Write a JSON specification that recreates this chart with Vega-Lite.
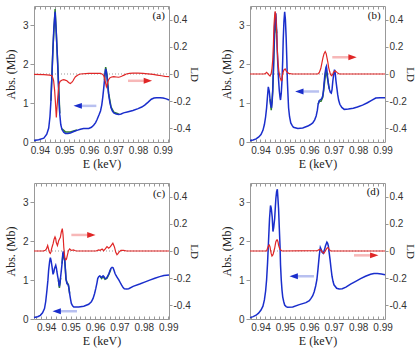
{
"$schema":"https://vega.github.io/schema/vega-lite/v6.json",
"background":"white",
"padding":{"left":4,"top":5,"right":0,"bottom":2},
"columns":2,
"spacing":{"row":41,"column":81},
"bounds":"flush",
"datasets":{
"a_blue":[{"E":0.9376,"abs":0.036},{"E":0.9395,"abs":0.06},{"E":0.9416,"abs":0.10},{"E":0.9428,"abs":0.2},{"E":0.9436,"abs":0.36},{"E":0.9441,"abs":0.65},{"E":0.9445,"abs":1.06},{"E":0.9449,"abs":1.7},{"E":0.9453,"abs":2.36},{"E":0.9457,"abs":2.95},{"E":0.9462,"abs":3.35},{"E":0.9467,"abs":2.8},{"E":0.9473,"abs":1.92},{"E":0.9477,"abs":1.2},{"E":0.9481,"abs":0.71},{"E":0.9485,"abs":0.45},{"E":0.949,"abs":0.32},{"E":0.9497,"abs":0.25},{"E":0.9504,"abs":0.22},{"E":0.9514,"abs":0.22},{"E":0.9524,"abs":0.23},{"E":0.9538,"abs":0.27},{"E":0.9551,"abs":0.30},{"E":0.9565,"abs":0.33},{"E":0.9578,"abs":0.35},{"E":0.959,"abs":0.35},{"E":0.9599,"abs":0.35},{"E":0.961,"abs":0.38},{"E":0.9619,"abs":0.43},{"E":0.9627,"abs":0.5},{"E":0.9633,"abs":0.58},{"E":0.9641,"abs":0.7},{"E":0.9647,"abs":0.80},{"E":0.9652,"abs":0.95},{"E":0.9656,"abs":1.14},{"E":0.966,"abs":1.38},{"E":0.9663,"abs":1.58},{"E":0.9666,"abs":1.80},{"E":0.9668,"abs":1.88},{"E":0.967,"abs":1.84},{"E":0.9673,"abs":1.71},{"E":0.9676,"abs":1.48},{"E":0.968,"abs":1.23},{"E":0.9685,"abs":1.02},{"E":0.969,"abs":0.88},{"E":0.9695,"abs":0.8},{"E":0.9701,"abs":0.75},{"E":0.9711,"abs":0.72},{"E":0.9721,"abs":0.71},{"E":0.9731,"abs":0.72},{"E":0.9741,"abs":0.75},{"E":0.976,"abs":0.78},{"E":0.9779,"abs":0.81},{"E":0.98,"abs":0.86},{"E":0.9815,"abs":0.9},{"E":0.9827,"abs":0.95},{"E":0.984,"abs":1.02},{"E":0.9854,"abs":1.10},{"E":0.9865,"abs":1.13},{"E":0.9875,"abs":1.14},{"E":0.989,"abs":1.14},{"E":0.9902,"abs":1.13},{"E":0.9915,"abs":1.11},{"E":0.9926,"abs":1.08}],
"a_green":[{"g":1,"E":0.9445,"abs":1.06},{"g":1,"E":0.9453,"abs":2.40},{"g":1,"E":0.9462,"abs":3.42},{"g":1,"E":0.9473,"abs":1.98},{"g":1,"E":0.9481,"abs":0.74},{"g":2,"E":0.949,"abs":0.34},{"g":2,"E":0.9504,"abs":0.26},{"g":2,"E":0.9524,"abs":0.26},{"g":2,"E":0.9551,"abs":0.31},{"g":3,"E":0.9663,"abs":1.60},{"g":3,"E":0.9668,"abs":1.93},{"g":3,"E":0.9673,"abs":1.75},{"g":3,"E":0.968,"abs":1.25},{"g":3,"E":0.969,"abs":0.90},{"g":3,"E":0.9701,"abs":0.77},{"g":3,"E":0.9721,"abs":0.72}],
"a_red":[{"E":0.9376,"ld":-0.003},{"E":0.9416,"ld":-0.005},{"E":0.944,"ld":-0.008},{"E":0.9449,"ld":-0.013},{"E":0.9453,"ld":-0.03},{"E":0.9456,"ld":-0.05},{"E":0.946,"ld":-0.12},{"E":0.9463,"ld":-0.2},{"E":0.9467,"ld":-0.32},{"E":0.947,"ld":-0.24},{"E":0.9473,"ld":-0.17},{"E":0.9476,"ld":-0.11},{"E":0.9478,"ld":-0.074},{"E":0.9482,"ld":-0.055},{"E":0.9486,"ld":-0.05},{"E":0.9491,"ld":-0.044},{"E":0.9497,"ld":-0.042},{"E":0.9503,"ld":-0.045},{"E":0.951,"ld":-0.05},{"E":0.9517,"ld":-0.062},{"E":0.9524,"ld":-0.07},{"E":0.953,"ld":-0.062},{"E":0.9535,"ld":-0.05},{"E":0.954,"ld":-0.033},{"E":0.9545,"ld":-0.02},{"E":0.9555,"ld":-0.007},{"E":0.9565,"ld":0},{"E":0.9599,"ld":0.005},{"E":0.9647,"ld":0.005},{"E":0.9656,"ld":-0.003},{"E":0.966,"ld":-0.013},{"E":0.9664,"ld":-0.035},{"E":0.9667,"ld":-0.06},{"E":0.9671,"ld":-0.094},{"E":0.9674,"ld":-0.078},{"E":0.9676,"ld":-0.06},{"E":0.968,"ld":-0.042},{"E":0.9684,"ld":-0.03},{"E":0.9692,"ld":-0.022},{"E":0.9701,"ld":-0.02},{"E":0.9711,"ld":-0.022},{"E":0.9721,"ld":-0.024},{"E":0.9728,"ld":-0.02},{"E":0.9735,"ld":-0.015},{"E":0.9743,"ld":-0.008},{"E":0.9752,"ld":0},{"E":0.9765,"ld":0.005},{"E":0.9779,"ld":0.007},{"E":0.98,"ld":0.006},{"E":0.982,"ld":0.005},{"E":0.984,"ld":0.001},{"E":0.9861,"ld":-0.003},{"E":0.9878,"ld":-0.008},{"E":0.9895,"ld":-0.013},{"E":0.991,"ld":-0.017},{"E":0.9926,"ld":-0.02}],
"a_zero":[{"E":0.9376,"Et":0.9926,"ld":0}],
"a_barrow":[{"E":0.9554,"Et":0.963,"abs":0.93}],
"a_rarrow":[{"E":0.984,"Et":0.9759,"ld":-0.05}],
"a_lab":[{"E":0.9884,"abs":3.24,"t":"(a)"}],
"b_blue":[{"E":0.9357,"abs":0.04},{"E":0.937,"abs":0.05},{"E":0.9382,"abs":0.08},{"E":0.9393,"abs":0.13},{"E":0.9402,"abs":0.19},{"E":0.941,"abs":0.3},{"E":0.9416,"abs":0.45},{"E":0.9421,"abs":0.65},{"E":0.9425,"abs":0.88},{"E":0.9429,"abs":1.2},{"E":0.9432,"abs":1.42},{"E":0.9436,"abs":1.3},{"E":0.9439,"abs":1.1},{"E":0.9442,"abs":0.95},{"E":0.9445,"abs":0.88},{"E":0.9448,"abs":1.05},{"E":0.945,"abs":1.32},{"E":0.9453,"abs":1.85},{"E":0.9455,"abs":2.36},{"E":0.9458,"abs":2.95},{"E":0.9461,"abs":3.31},{"E":0.9463,"abs":3.3},{"E":0.9466,"abs":2.88},{"E":0.9468,"abs":2.45},{"E":0.9471,"abs":2.0},{"E":0.9474,"abs":1.6},{"E":0.9477,"abs":1.32},{"E":0.948,"abs":1.15},{"E":0.9482,"abs":1.08},{"E":0.9485,"abs":1.25},{"E":0.9488,"abs":1.58},{"E":0.9491,"abs":2.1},{"E":0.9493,"abs":2.62},{"E":0.9496,"abs":3.1},{"E":0.9499,"abs":3.35},{"E":0.9502,"abs":3.15},{"E":0.9505,"abs":2.7},{"E":0.9508,"abs":2.1},{"E":0.951,"abs":1.58},{"E":0.9513,"abs":1.15},{"E":0.9515,"abs":0.88},{"E":0.9519,"abs":0.65},{"E":0.9524,"abs":0.49},{"E":0.953,"abs":0.42},{"E":0.9535,"abs":0.38},{"E":0.9553,"abs":0.35},{"E":0.9573,"abs":0.36},{"E":0.9594,"abs":0.41},{"E":0.9605,"abs":0.45},{"E":0.9614,"abs":0.49},{"E":0.9622,"abs":0.57},{"E":0.9628,"abs":0.67},{"E":0.9633,"abs":0.82},{"E":0.9636,"abs":0.97},{"E":0.9641,"abs":1.07},{"E":0.9648,"abs":1.1},{"E":0.9652,"abs":1.13},{"E":0.9655,"abs":1.19},{"E":0.9658,"abs":1.32},{"E":0.966,"abs":1.49},{"E":0.9664,"abs":1.75},{"E":0.9668,"abs":1.92},{"E":0.967,"abs":1.95},{"E":0.9672,"abs":1.85},{"E":0.9675,"abs":1.66},{"E":0.9679,"abs":1.45},{"E":0.9682,"abs":1.36},{"E":0.9686,"abs":1.28},{"E":0.969,"abs":1.26},{"E":0.9693,"abs":1.35},{"E":0.9696,"abs":1.55},{"E":0.97,"abs":1.75},{"E":0.9703,"abs":1.86},{"E":0.9706,"abs":1.78},{"E":0.9709,"abs":1.58},{"E":0.9713,"abs":1.38},{"E":0.9716,"abs":1.23},{"E":0.972,"abs":1.08},{"E":0.9725,"abs":0.97},{"E":0.9733,"abs":0.89},{"E":0.9743,"abs":0.84},{"E":0.976,"abs":0.85},{"E":0.978,"abs":0.87},{"E":0.9797,"abs":0.9},{"E":0.9818,"abs":0.95},{"E":0.9838,"abs":1.01},{"E":0.9855,"abs":1.07},{"E":0.9872,"abs":1.13},{"E":0.989,"abs":1.14},{"E":0.991,"abs":1.14}],
"b_green":[{"g":1,"E":0.9439,"abs":1.1},{"g":1,"E":0.9444,"abs":0.82},{"g":1,"E":0.945,"abs":1.3},{"g":1,"E":0.9455,"abs":2.3},{"g":1,"E":0.9461,"abs":3.25},{"g":1,"E":0.9466,"abs":2.8},{"g":2,"E":0.9636,"abs":0.97},{"g":2,"E":0.9641,"abs":1.05},{"g":2,"E":0.9648,"abs":1.05},{"g":2,"E":0.9655,"abs":1.15},{"g":2,"E":0.966,"abs":1.4},{"g":2,"E":0.9668,"abs":1.85},{"g":2,"E":0.9675,"abs":1.62},{"g":2,"E":0.9682,"abs":1.36}],
"b_red":[{"E":0.9357,"ld":0},{"E":0.9416,"ld":0},{"E":0.9421,"ld":0.006},{"E":0.9425,"ld":0.012},{"E":0.9429,"ld":0.005},{"E":0.9433,"ld":-0.005},{"E":0.9439,"ld":-0.015},{"E":0.9444,"ld":0.005},{"E":0.9447,"ld":0.04},{"E":0.945,"ld":0.1},{"E":0.9453,"ld":0.22},{"E":0.9455,"ld":0.35},{"E":0.9458,"ld":0.43},{"E":0.946,"ld":0.46},{"E":0.9462,"ld":0.44},{"E":0.9464,"ld":0.39},{"E":0.9467,"ld":0.28},{"E":0.9469,"ld":0.17},{"E":0.9472,"ld":0.08},{"E":0.9475,"ld":0.024},{"E":0.948,"ld":-0.025},{"E":0.9485,"ld":-0.05},{"E":0.9488,"ld":-0.045},{"E":0.949,"ld":-0.01},{"E":0.9493,"ld":0.015},{"E":0.9496,"ld":0.03},{"E":0.9501,"ld":0.037},{"E":0.9507,"ld":0.017},{"E":0.9515,"ld":0.005},{"E":0.953,"ld":0},{"E":0.9635,"ld":0},{"E":0.9641,"ld":0.012},{"E":0.9647,"ld":0.04},{"E":0.9652,"ld":0.086},{"E":0.9656,"ld":0.12},{"E":0.966,"ld":0.148},{"E":0.9665,"ld":0.165},{"E":0.9669,"ld":0.15},{"E":0.9672,"ld":0.123},{"E":0.9676,"ld":0.085},{"E":0.9679,"ld":0.049},{"E":0.9683,"ld":0.02},{"E":0.9687,"ld":-0.005},{"E":0.9692,"ld":-0.013},{"E":0.9696,"ld":0.0},{"E":0.9699,"ld":0.012},{"E":0.9706,"ld":0.024},{"E":0.9713,"ld":0.012},{"E":0.9722,"ld":0},{"E":0.98,"ld":0},{"E":0.991,"ld":0}],
"b_zero":[{"E":0.9357,"Et":0.991,"ld":0}],
"b_barrow":[{"E":0.9559,"Et":0.964,"abs":1.30}],
"b_rarrow":[{"E":0.9777,"Et":0.9694,"ld":0.123}],
"b_lab":[{"E":0.9866,"abs":3.24,"t":"(b)"}],
"c_blue":[{"E":0.935,"abs":0.036},{"E":0.9365,"abs":0.06},{"E":0.9376,"abs":0.095},{"E":0.9385,"abs":0.16},{"E":0.9393,"abs":0.27},{"E":0.9398,"abs":0.45},{"E":0.9403,"abs":0.74},{"E":0.9407,"abs":1.0},{"E":0.941,"abs":1.26},{"E":0.9414,"abs":1.48},{"E":0.9417,"abs":1.58},{"E":0.942,"abs":1.5},{"E":0.9424,"abs":1.34},{"E":0.9428,"abs":1.15},{"E":0.9431,"abs":1.2},{"E":0.9434,"abs":1.30},{"E":0.9439,"abs":1.38},{"E":0.9442,"abs":1.3},{"E":0.9444,"abs":1.21},{"E":0.9447,"abs":1.1},{"E":0.945,"abs":1.0},{"E":0.9454,"abs":0.84},{"E":0.9457,"abs":0.95},{"E":0.9459,"abs":1.08},{"E":0.9462,"abs":1.25},{"E":0.9465,"abs":1.43},{"E":0.9468,"abs":1.68},{"E":0.947,"abs":1.74},{"E":0.9473,"abs":1.65},{"E":0.9476,"abs":1.51},{"E":0.9479,"abs":1.25},{"E":0.9481,"abs":1.04},{"E":0.9485,"abs":0.91},{"E":0.9488,"abs":0.9},{"E":0.9491,"abs":0.86},{"E":0.9494,"abs":0.75},{"E":0.9496,"abs":0.65},{"E":0.95,"abs":0.5},{"E":0.9503,"abs":0.40},{"E":0.9508,"abs":0.34},{"E":0.9513,"abs":0.31},{"E":0.9533,"abs":0.31},{"E":0.9554,"abs":0.33},{"E":0.9574,"abs":0.38},{"E":0.9585,"abs":0.44},{"E":0.9592,"abs":0.53},{"E":0.9598,"abs":0.65},{"E":0.9603,"abs":0.78},{"E":0.9608,"abs":0.93},{"E":0.9611,"abs":1.04},{"E":0.9615,"abs":1.09},{"E":0.9619,"abs":1.11},{"E":0.9623,"abs":1.09},{"E":0.9627,"abs":1.07},{"E":0.9633,"abs":1.11},{"E":0.9637,"abs":1.09},{"E":0.9641,"abs":1.04},{"E":0.9645,"abs":1.04},{"E":0.9649,"abs":1.07},{"E":0.9653,"abs":1.12},{"E":0.9657,"abs":1.17},{"E":0.9661,"abs":1.24},{"E":0.9665,"abs":1.30},{"E":0.967,"abs":1.33},{"E":0.9674,"abs":1.32},{"E":0.9678,"abs":1.25},{"E":0.9682,"abs":1.17},{"E":0.9686,"abs":1.12},{"E":0.969,"abs":1.08},{"E":0.9694,"abs":1.04},{"E":0.9698,"abs":1.0},{"E":0.9703,"abs":0.94},{"E":0.9709,"abs":0.87},{"E":0.9715,"abs":0.81},{"E":0.972,"abs":0.78},{"E":0.973,"abs":0.77},{"E":0.9738,"abs":0.78},{"E":0.9756,"abs":0.84},{"E":0.9783,"abs":0.90},{"E":0.9803,"abs":0.95},{"E":0.9824,"abs":1.0},{"E":0.9845,"abs":1.05},{"E":0.9865,"abs":1.09},{"E":0.9882,"abs":1.12},{"E":0.9903,"abs":1.13}],
"c_green":[{"g":1,"E":0.945,"abs":1.0},{"g":1,"E":0.9454,"abs":0.80},{"g":1,"E":0.9459,"abs":1.06},{"g":2,"E":0.9465,"abs":1.43},{"g":2,"E":0.9469,"abs":1.70},{"g":2,"E":0.9476,"abs":1.5},{"g":2,"E":0.9481,"abs":1.02},{"g":2,"E":0.9485,"abs":0.94},{"g":2,"E":0.9491,"abs":0.88},{"g":2,"E":0.9496,"abs":0.66},{"g":3,"E":0.9619,"abs":1.11},{"g":3,"E":0.9627,"abs":1.04},{"g":3,"E":0.9633,"abs":1.09},{"g":3,"E":0.9641,"abs":1.02},{"g":3,"E":0.9649,"abs":1.05},{"g":3,"E":0.9657,"abs":1.15},{"g":3,"E":0.9665,"abs":1.28}],
"c_red":[{"E":0.935,"ld":0},{"E":0.9389,"ld":0},{"E":0.9396,"ld":0.005},{"E":0.9401,"ld":0.015},{"E":0.9406,"ld":0.04},{"E":0.9409,"ld":0.02},{"E":0.9411,"ld":0.003},{"E":0.9414,"ld":-0.012},{"E":0.9417,"ld":-0.018},{"E":0.942,"ld":-0.005},{"E":0.9422,"ld":0.015},{"E":0.9425,"ld":0.035},{"E":0.9428,"ld":0.052},{"E":0.9432,"ld":0.085},{"E":0.9436,"ld":0.104},{"E":0.9439,"ld":0.09},{"E":0.9441,"ld":0.064},{"E":0.9446,"ld":0.04},{"E":0.9449,"ld":0.06},{"E":0.9451,"ld":0.076},{"E":0.9455,"ld":0.09},{"E":0.9458,"ld":0.10},{"E":0.9462,"ld":0.14},{"E":0.9466,"ld":0.165},{"E":0.9469,"ld":0.12},{"E":0.9472,"ld":0.027},{"E":0.9476,"ld":-0.047},{"E":0.948,"ld":-0.065},{"E":0.9483,"ld":-0.06},{"E":0.9486,"ld":-0.035},{"E":0.9491,"ld":0.002},{"E":0.9496,"ld":0.015},{"E":0.9503,"ld":0.004},{"E":0.9511,"ld":0.008},{"E":0.952,"ld":0.002},{"E":0.9527,"ld":0},{"E":0.9604,"ld":0},{"E":0.9615,"ld":0.008},{"E":0.9621,"ld":0.005},{"E":0.9629,"ld":0.015},{"E":0.9635,"ld":0.002},{"E":0.9642,"ld":0.015},{"E":0.9649,"ld":0.032},{"E":0.9656,"ld":0.02},{"E":0.9663,"ld":0.032},{"E":0.9668,"ld":0.045},{"E":0.9673,"ld":0.057},{"E":0.9677,"ld":0.04},{"E":0.968,"ld":0.027},{"E":0.9685,"ld":-0.01},{"E":0.969,"ld":-0.027},{"E":0.9694,"ld":-0.02},{"E":0.9698,"ld":-0.008},{"E":0.9706,"ld":0.004},{"E":0.9717,"ld":0.004},{"E":0.973,"ld":0},{"E":0.9903,"ld":0}],
"c_zero":[{"E":0.935,"Et":0.9903,"ld":0}],
"c_barrow":[{"E":0.9443,"Et":0.9526,"abs":0.2}],
"c_rarrow":[{"E":0.9585,"Et":0.9503,"ld":0.118}],
"c_lab":[{"E":0.9862,"abs":3.22,"t":"(c)"}],
"d_blue":[{"E":0.9357,"abs":0.036},{"E":0.937,"abs":0.06},{"E":0.9382,"abs":0.097},{"E":0.9392,"abs":0.15},{"E":0.9402,"abs":0.23},{"E":0.941,"abs":0.33},{"E":0.9416,"abs":0.49},{"E":0.9421,"abs":0.72},{"E":0.9425,"abs":1.01},{"E":0.9429,"abs":1.45},{"E":0.9432,"abs":1.88},{"E":0.9435,"abs":2.3},{"E":0.9437,"abs":2.58},{"E":0.9441,"abs":2.92},{"E":0.9444,"abs":2.85},{"E":0.9448,"abs":2.62},{"E":0.9451,"abs":2.25},{"E":0.9454,"abs":2.35},{"E":0.9458,"abs":2.58},{"E":0.9461,"abs":2.9},{"E":0.9463,"abs":3.1},{"E":0.9466,"abs":3.28},{"E":0.9469,"abs":3.34},{"E":0.9471,"abs":3.15},{"E":0.9474,"abs":2.84},{"E":0.9477,"abs":2.35},{"E":0.948,"abs":1.88},{"E":0.9482,"abs":1.4},{"E":0.9485,"abs":1.01},{"E":0.9488,"abs":0.75},{"E":0.9491,"abs":0.57},{"E":0.9495,"abs":0.45},{"E":0.9499,"abs":0.36},{"E":0.9505,"abs":0.32},{"E":0.9511,"abs":0.30},{"E":0.9532,"abs":0.31},{"E":0.9559,"abs":0.37},{"E":0.9586,"abs":0.42},{"E":0.96,"abs":0.47},{"E":0.9607,"abs":0.53},{"E":0.9614,"abs":0.6},{"E":0.962,"abs":0.70},{"E":0.9626,"abs":0.85},{"E":0.9631,"abs":1.01},{"E":0.9635,"abs":1.25},{"E":0.9638,"abs":1.45},{"E":0.9641,"abs":1.65},{"E":0.9645,"abs":1.84},{"E":0.9649,"abs":1.78},{"E":0.9652,"abs":1.72},{"E":0.9657,"abs":1.69},{"E":0.9662,"abs":1.78},{"E":0.9666,"abs":1.88},{"E":0.9672,"abs":1.98},{"E":0.9675,"abs":1.95},{"E":0.9678,"abs":1.88},{"E":0.9681,"abs":1.72},{"E":0.9685,"abs":1.53},{"E":0.9689,"abs":1.3},{"E":0.9693,"abs":1.10},{"E":0.9697,"abs":0.97},{"E":0.9701,"abs":0.88},{"E":0.9712,"abs":0.79},{"E":0.9722,"abs":0.77},{"E":0.9735,"abs":0.78},{"E":0.975,"abs":0.82},{"E":0.9769,"abs":0.90},{"E":0.979,"abs":0.97},{"E":0.981,"abs":1.04},{"E":0.983,"abs":1.10},{"E":0.9851,"abs":1.15},{"E":0.9865,"abs":1.17},{"E":0.9879,"abs":1.17},{"E":0.9895,"abs":1.16},{"E":0.991,"abs":1.14}],
"d_red":[{"E":0.9357,"ld":0},{"E":0.9425,"ld":0},{"E":0.9429,"ld":0.02},{"E":0.9433,"ld":0.04},{"E":0.9436,"ld":0.044},{"E":0.9439,"ld":0.03},{"E":0.9441,"ld":0.007},{"E":0.9444,"ld":-0.02},{"E":0.9447,"ld":-0.037},{"E":0.945,"ld":-0.03},{"E":0.9452,"ld":-0.022},{"E":0.9455,"ld":0.0},{"E":0.9458,"ld":0.02},{"E":0.9461,"ld":0.05},{"E":0.9463,"ld":0.069},{"E":0.9466,"ld":0.08},{"E":0.9469,"ld":0.081},{"E":0.9472,"ld":0.065},{"E":0.9474,"ld":0.044},{"E":0.9477,"ld":0.025},{"E":0.948,"ld":0.012},{"E":0.9488,"ld":0},{"E":0.9634,"ld":0.003},{"E":0.9641,"ld":0.012},{"E":0.9647,"ld":0.007},{"E":0.9651,"ld":-0.003},{"E":0.9655,"ld":-0.012},{"E":0.966,"ld":-0.017},{"E":0.9663,"ld":-0.008},{"E":0.9666,"ld":0.003},{"E":0.9672,"ld":0.02},{"E":0.9676,"ld":0.025},{"E":0.9681,"ld":0.012},{"E":0.9685,"ld":0.004},{"E":0.9689,"ld":0},{"E":0.991,"ld":0}],
"d_zero":[{"E":0.9357,"Et":0.991,"ld":0}],
"d_barrow":[{"E":0.9536,"Et":0.9619,"abs":1.1}],
"d_rarrow":[{"E":0.9866,"Et":0.9783,"ld":-0.032}],
"d_lab":[{"E":0.9861,"abs":3.26,"t":"(d)"}]
},
"concat":[
{"width":135,"height":136,
 "layer":[
  {"data":{"name":"a_zero"},"mark":{"type":"rule","stroke":"#999","strokeWidth":1,"strokeDash":[1,2]},
   "encoding":{"x":{"field":"E","type":"quantitative","scale":{"domain":[0.9376,0.9926],"nice":false,"zero":false},"axis":{"orient":"bottom","labels":false,"title":null,"domain":false,"tickSize":-3,"values":[0.938,0.94,0.942,0.944,0.946,0.948,0.95,0.952,0.954,0.956,0.958,0.96,0.962,0.964,0.966,0.968,0.97,0.972,0.974,0.976,0.978,0.98,0.982,0.984,0.986,0.988,0.99,0.992]}},
    "x2":{"field":"Et"},
    "y":{"field":"ld","type":"quantitative","scale":{"domain":[-0.5,0.5],"nice":false,"zero":false},"axis":null}}},
  {"encoding":{"x":{"field":"E","type":"quantitative","scale":{"domain":[0.9376,0.9926],"nice":false,"zero":false},"axis":{"orient":"bottom","values":[0.94,0.95,0.96,0.97,0.98,0.99],"format":".2f","ticks":false,"labelPadding":3,"labelFlush":false,"labelOverlap":false,"title":"E (keV)","titlePadding":3}},
    "y":{"field":"abs","type":"quantitative","scale":{"domain":[0,3.5],"nice":false,"zero":false},"axis":{"orient":"left","values":[0,1,2,3],"format":"d","tickSize":4,"labelPadding":2,"title":"Abs. (Mb)","titlePadding":5}}},
   "layer":[
    {"data":{"name":"a_green"},"mark":{"type":"line","stroke":"#2e7d32","strokeWidth":1.5},"encoding":{"detail":{"field":"g"}}},
    {"data":{"name":"a_blue"},"mark":{"type":"line","stroke":"#1a2ecc","strokeWidth":1.5}},
    {"data":{"name":"a_barrow"},"mark":{"type":"rule","stroke":"#b8c0f0","strokeWidth":2.5},"encoding":{"x2":{"field":"Et"}}},
    {"data":{"name":"a_barrow"},"mark":{"type":"point","shape":"M -1 0 L 1 -0.7 L 1 0.7 Z","filled":true,"size":70,"color":"#1a2ecc","opacity":1}},
    {"data":{"name":"a_lab"},"mark":{"type":"text","font":"Liberation Serif","fontSize":11,"color":"#111"},"encoding":{"text":{"field":"t"}}}
   ]},
  {"encoding":{"x":{"field":"E","type":"quantitative","scale":{"domain":[0.9376,0.9926],"nice":false,"zero":false},"axis":{"orient":"top","labels":false,"title":null,"tickSize":-3,"values":[0.938,0.94,0.942,0.944,0.946,0.948,0.95,0.952,0.954,0.956,0.958,0.96,0.962,0.964,0.966,0.968,0.97,0.972,0.974,0.976,0.978,0.98,0.982,0.984,0.986,0.988,0.99,0.992]}},
    "y":{"field":"ld","type":"quantitative","scale":{"domain":[-0.5,0.5],"nice":false,"zero":false},"axis":{"orient":"right","values":[-0.4,-0.2,0,0.2,0.4],"tickSize":3,"labelPadding":1,"title":"LD","titleFontSize":11,"titlePadding":-2,"labelExpr":"datum.value == 0 ? '0' : (datum.value < 0 ? '-' : '') + format(abs(datum.value), '.1f')"}}},
   "layer":[
    {"data":{"name":"a_red"},"mark":{"type":"line","stroke":"#e02626","strokeWidth":1.2}},
    {"data":{"name":"a_rarrow"},"mark":{"type":"rule","stroke":"#f7b8b8","strokeWidth":2.5},"encoding":{"x2":{"field":"Et"}}},
    {"data":{"name":"a_rarrow"},"mark":{"type":"point","shape":"M 1 0 L -1 -0.7 L -1 0.7 Z","filled":true,"size":70,"color":"#e02626","opacity":1}}
   ]}
 ],
 "resolve":{"scale":{"y":"independent"},"axis":{"x":"independent","y":"independent"}}},
{"width":135,"height":136,
 "layer":[
  {"data":{"name":"b_zero"},"mark":{"type":"rule","stroke":"#999","strokeWidth":1,"strokeDash":[1,2]},
   "encoding":{"x":{"field":"E","type":"quantitative","scale":{"domain":[0.9357,0.991],"nice":false,"zero":false},"axis":{"orient":"bottom","labels":false,"title":null,"domain":false,"tickSize":-3,"values":[0.936,0.938,0.94,0.942,0.944,0.946,0.948,0.95,0.952,0.954,0.956,0.958,0.96,0.962,0.964,0.966,0.968,0.97,0.972,0.974,0.976,0.978,0.98,0.982,0.984,0.986,0.988,0.99]}},
    "x2":{"field":"Et"},
    "y":{"field":"ld","type":"quantitative","scale":{"domain":[-0.5,0.5],"nice":false,"zero":false},"axis":null}}},
  {"encoding":{"x":{"field":"E","type":"quantitative","scale":{"domain":[0.9357,0.991],"nice":false,"zero":false},"axis":{"orient":"bottom","values":[0.94,0.95,0.96,0.97,0.98,0.99],"format":".2f","ticks":false,"labelPadding":3,"labelFlush":false,"labelOverlap":false,"title":"E (keV)","titlePadding":3}},
    "y":{"field":"abs","type":"quantitative","scale":{"domain":[0,3.5],"nice":false,"zero":false},"axis":{"orient":"left","values":[0,1,2,3],"format":"d","tickSize":4,"labelPadding":2,"title":"Abs. (Mb)","titlePadding":5}}},
   "layer":[
    {"data":{"name":"b_green"},"mark":{"type":"line","stroke":"#2e7d32","strokeWidth":1.5},"encoding":{"detail":{"field":"g"}}},
    {"data":{"name":"b_blue"},"mark":{"type":"line","stroke":"#1a2ecc","strokeWidth":1.5}},
    {"data":{"name":"b_barrow"},"mark":{"type":"rule","stroke":"#b8c0f0","strokeWidth":2.5},"encoding":{"x2":{"field":"Et"}}},
    {"data":{"name":"b_barrow"},"mark":{"type":"point","shape":"M -1 0 L 1 -0.7 L 1 0.7 Z","filled":true,"size":70,"color":"#1a2ecc","opacity":1}},
    {"data":{"name":"b_lab"},"mark":{"type":"text","font":"Liberation Serif","fontSize":11,"color":"#111"},"encoding":{"text":{"field":"t"}}}
   ]},
  {"encoding":{"x":{"field":"E","type":"quantitative","scale":{"domain":[0.9357,0.991],"nice":false,"zero":false},"axis":{"orient":"top","labels":false,"title":null,"tickSize":-3,"values":[0.936,0.938,0.94,0.942,0.944,0.946,0.948,0.95,0.952,0.954,0.956,0.958,0.96,0.962,0.964,0.966,0.968,0.97,0.972,0.974,0.976,0.978,0.98,0.982,0.984,0.986,0.988,0.99]}},
    "y":{"field":"ld","type":"quantitative","scale":{"domain":[-0.5,0.5],"nice":false,"zero":false},"axis":{"orient":"right","values":[-0.4,-0.2,0,0.2,0.4],"tickSize":3,"labelPadding":1,"title":"LD","titleFontSize":11,"titlePadding":-2,"labelExpr":"datum.value == 0 ? '0' : (datum.value < 0 ? '-' : '') + format(abs(datum.value), '.1f')"}}},
   "layer":[
    {"data":{"name":"b_red"},"mark":{"type":"line","stroke":"#e02626","strokeWidth":1.2}},
    {"data":{"name":"b_rarrow"},"mark":{"type":"rule","stroke":"#f7b8b8","strokeWidth":2.5},"encoding":{"x2":{"field":"Et"}}},
    {"data":{"name":"b_rarrow"},"mark":{"type":"point","shape":"M 1 0 L -1 -0.7 L -1 0.7 Z","filled":true,"size":70,"color":"#e02626","opacity":1}}
   ]}
 ],
 "resolve":{"scale":{"y":"independent"},"axis":{"x":"independent","y":"independent"}}},
{"width":135,"height":136,
 "layer":[
  {"data":{"name":"c_zero"},"mark":{"type":"rule","stroke":"#999","strokeWidth":1,"strokeDash":[1,2]},
   "encoding":{"x":{"field":"E","type":"quantitative","scale":{"domain":[0.935,0.9903],"nice":false,"zero":false},"axis":{"orient":"bottom","labels":false,"title":null,"domain":false,"tickSize":-3,"values":[0.936,0.938,0.94,0.942,0.944,0.946,0.948,0.95,0.952,0.954,0.956,0.958,0.96,0.962,0.964,0.966,0.968,0.97,0.972,0.974,0.976,0.978,0.98,0.982,0.984,0.986,0.988,0.99]}},
    "x2":{"field":"Et"},
    "y":{"field":"ld","type":"quantitative","scale":{"domain":[-0.5,0.5],"nice":false,"zero":false},"axis":null}}},
  {"encoding":{"x":{"field":"E","type":"quantitative","scale":{"domain":[0.935,0.9903],"nice":false,"zero":false},"axis":{"orient":"bottom","values":[0.94,0.95,0.96,0.97,0.98,0.99],"format":".2f","ticks":false,"labelPadding":3,"labelFlush":false,"labelOverlap":false,"title":"E (keV)","titlePadding":3}},
    "y":{"field":"abs","type":"quantitative","scale":{"domain":[0,3.5],"nice":false,"zero":false},"axis":{"orient":"left","values":[0,1,2,3],"format":"d","tickSize":4,"labelPadding":2,"title":"Abs. (Mb)","titlePadding":5}}},
   "layer":[
    {"data":{"name":"c_green"},"mark":{"type":"line","stroke":"#2e7d32","strokeWidth":1.5},"encoding":{"detail":{"field":"g"}}},
    {"data":{"name":"c_blue"},"mark":{"type":"line","stroke":"#1a2ecc","strokeWidth":1.5}},
    {"data":{"name":"c_barrow"},"mark":{"type":"rule","stroke":"#b8c0f0","strokeWidth":2.5},"encoding":{"x2":{"field":"Et"}}},
    {"data":{"name":"c_barrow"},"mark":{"type":"point","shape":"M -1 0 L 1 -0.7 L 1 0.7 Z","filled":true,"size":70,"color":"#1a2ecc","opacity":1}},
    {"data":{"name":"c_lab"},"mark":{"type":"text","font":"Liberation Serif","fontSize":11,"color":"#111"},"encoding":{"text":{"field":"t"}}}
   ]},
  {"encoding":{"x":{"field":"E","type":"quantitative","scale":{"domain":[0.935,0.9903],"nice":false,"zero":false},"axis":{"orient":"top","labels":false,"title":null,"tickSize":-3,"values":[0.936,0.938,0.94,0.942,0.944,0.946,0.948,0.95,0.952,0.954,0.956,0.958,0.96,0.962,0.964,0.966,0.968,0.97,0.972,0.974,0.976,0.978,0.98,0.982,0.984,0.986,0.988,0.99]}},
    "y":{"field":"ld","type":"quantitative","scale":{"domain":[-0.5,0.5],"nice":false,"zero":false},"axis":{"orient":"right","values":[-0.4,-0.2,0,0.2,0.4],"tickSize":3,"labelPadding":1,"title":"LD","titleFontSize":11,"titlePadding":-2,"labelExpr":"datum.value == 0 ? '0' : (datum.value < 0 ? '-' : '') + format(abs(datum.value), '.1f')"}}},
   "layer":[
    {"data":{"name":"c_red"},"mark":{"type":"line","stroke":"#e02626","strokeWidth":1.2}},
    {"data":{"name":"c_rarrow"},"mark":{"type":"rule","stroke":"#f7b8b8","strokeWidth":2.5},"encoding":{"x2":{"field":"Et"}}},
    {"data":{"name":"c_rarrow"},"mark":{"type":"point","shape":"M 1 0 L -1 -0.7 L -1 0.7 Z","filled":true,"size":70,"color":"#e02626","opacity":1}}
   ]}
 ],
 "resolve":{"scale":{"y":"independent"},"axis":{"x":"independent","y":"independent"}}},
{"width":135,"height":136,
 "layer":[
  {"data":{"name":"d_zero"},"mark":{"type":"rule","stroke":"#999","strokeWidth":1,"strokeDash":[1,2]},
   "encoding":{"x":{"field":"E","type":"quantitative","scale":{"domain":[0.9357,0.991],"nice":false,"zero":false},"axis":{"orient":"bottom","labels":false,"title":null,"domain":false,"tickSize":-3,"values":[0.936,0.938,0.94,0.942,0.944,0.946,0.948,0.95,0.952,0.954,0.956,0.958,0.96,0.962,0.964,0.966,0.968,0.97,0.972,0.974,0.976,0.978,0.98,0.982,0.984,0.986,0.988,0.99]}},
    "x2":{"field":"Et"},
    "y":{"field":"ld","type":"quantitative","scale":{"domain":[-0.5,0.5],"nice":false,"zero":false},"axis":null}}},
  {"encoding":{"x":{"field":"E","type":"quantitative","scale":{"domain":[0.9357,0.991],"nice":false,"zero":false},"axis":{"orient":"bottom","values":[0.94,0.95,0.96,0.97,0.98,0.99],"format":".2f","ticks":false,"labelPadding":3,"labelFlush":false,"labelOverlap":false,"title":"E (keV)","titlePadding":3}},
    "y":{"field":"abs","type":"quantitative","scale":{"domain":[0,3.5],"nice":false,"zero":false},"axis":{"orient":"left","values":[0,1,2,3],"format":"d","tickSize":4,"labelPadding":2,"title":"Abs. (Mb)","titlePadding":5}}},
   "layer":[
    {"data":{"name":"d_blue"},"mark":{"type":"line","stroke":"#1a2ecc","strokeWidth":1.5}},
    {"data":{"name":"d_barrow"},"mark":{"type":"rule","stroke":"#b8c0f0","strokeWidth":2.5},"encoding":{"x2":{"field":"Et"}}},
    {"data":{"name":"d_barrow"},"mark":{"type":"point","shape":"M -1 0 L 1 -0.7 L 1 0.7 Z","filled":true,"size":70,"color":"#1a2ecc","opacity":1}},
    {"data":{"name":"d_lab"},"mark":{"type":"text","font":"Liberation Serif","fontSize":11,"color":"#111"},"encoding":{"text":{"field":"t"}}}
   ]},
  {"encoding":{"x":{"field":"E","type":"quantitative","scale":{"domain":[0.9357,0.991],"nice":false,"zero":false},"axis":{"orient":"top","labels":false,"title":null,"tickSize":-3,"values":[0.936,0.938,0.94,0.942,0.944,0.946,0.948,0.95,0.952,0.954,0.956,0.958,0.96,0.962,0.964,0.966,0.968,0.97,0.972,0.974,0.976,0.978,0.98,0.982,0.984,0.986,0.988,0.99]}},
    "y":{"field":"ld","type":"quantitative","scale":{"domain":[-0.5,0.5],"nice":false,"zero":false},"axis":{"orient":"right","values":[-0.4,-0.2,0,0.2,0.4],"tickSize":3,"labelPadding":1,"title":"LD","titleFontSize":11,"titlePadding":-2,"labelExpr":"datum.value == 0 ? '0' : (datum.value < 0 ? '-' : '') + format(abs(datum.value), '.1f')"}}},
   "layer":[
    {"data":{"name":"d_red"},"mark":{"type":"line","stroke":"#e02626","strokeWidth":1.2}},
    {"data":{"name":"d_rarrow"},"mark":{"type":"rule","stroke":"#f7b8b8","strokeWidth":2.5},"encoding":{"x2":{"field":"Et"}}},
    {"data":{"name":"d_rarrow"},"mark":{"type":"point","shape":"M 1 0 L -1 -0.7 L -1 0.7 Z","filled":true,"size":70,"color":"#e02626","opacity":1}}
   ]}
 ],
 "resolve":{"scale":{"y":"independent"},"axis":{"x":"independent","y":"independent"}}}
],
"config":{"view":{"stroke":null},"axis":{"labelFont":"Liberation Sans","labelFontSize":10,"labelColor":"#333","titleFont":"Liberation Serif","titleFontSize":12,"titleFontWeight":"normal","titleColor":"#222","domainColor":"#999","tickColor":"#999","grid":false}}
}
